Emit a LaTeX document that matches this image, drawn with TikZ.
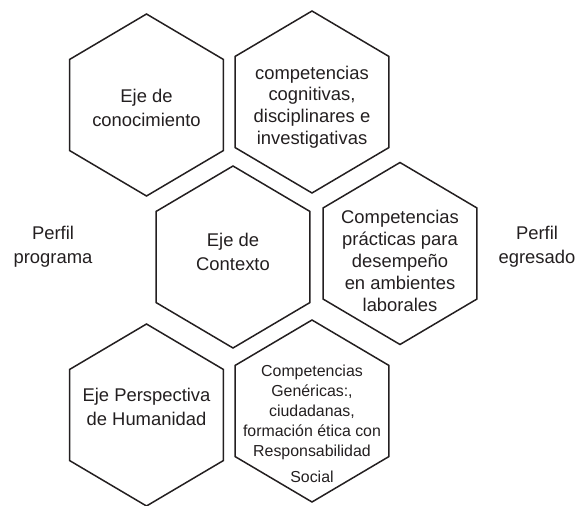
\documentclass[tikz,border=0pt]{standalone}
\usepackage{fontspec}
\setmainfont{Liberation Sans}
\usepackage{tikz}
\usepackage{xcolor}
\usetikzlibrary{positioning}
\definecolor{inkgray}{RGB}{35,31,32}

\tikzset{
  hexline/.style={draw=inkgray, line width=1.5pt, line join=miter},
  cell/.style={align=center, text=inkgray, inner sep=0pt, font=\fontsize{18.4}{24}\selectfont},
  tightcell/.style={cell, font=\fontsize{18.4}{21.8}\selectfont},
  smallcell/.style={cell, font=\fontsize{15.9}{20}\selectfont}
}
\newcommand{\hexcell}[1]{%
  \draw[hexline] (#1) +(90:88.9 and 91) \foreach \a in {30,-30,-90,-150,150} { -- +(\a:88.9 and 91)} -- cycle;}

\begin{document}
\begin{tikzpicture}[x=1pt, y=-1pt]
    \useasboundingbox (0,0) rectangle (587,506);
    \coordinate (h1) at (146.5,105);
    \coordinate (h2) at (312,102);
    \coordinate (h3) at (233,257);
    \coordinate (h4) at (400,253.5);
    \coordinate (h5) at (146.5,415);
    \coordinate (h6) at (312,411);
    \foreach \h in {h1,h2,h3,h4,h5,h6} {\hexcell{\h}}
    \node[cell] (conocimiento) at (146.5,108) {Eje de\\conocimiento};
    \node[tightcell] (cognitivas) at (312,107) {competencias\\cognitivas,\\disciplinares e\\investigativas};
    \node[cell] (contexto) at (233,252) {Eje de\\Contexto};
    \node[tightcell] (practicas) at (400,261) {Competencias\\prácticas para\\desempeño\\en ambientes\\laborales};
    \node[cell] (humanidad) at (146.5,407) {Eje Perspectiva\\de Humanidad};
    \node[smallcell] (genericas) at (312,424) {Competencias\\Genéricas:,\\ciudadanas,\\formación ética con\\Responsabilidad\\[6pt]Social};
    \node[cell] (programa) at (53,247) {Perfil\\programa};
    \node[cell] (egresado) at (537,247) {Perfil\\egresado};
\end{tikzpicture}
\end{document}
